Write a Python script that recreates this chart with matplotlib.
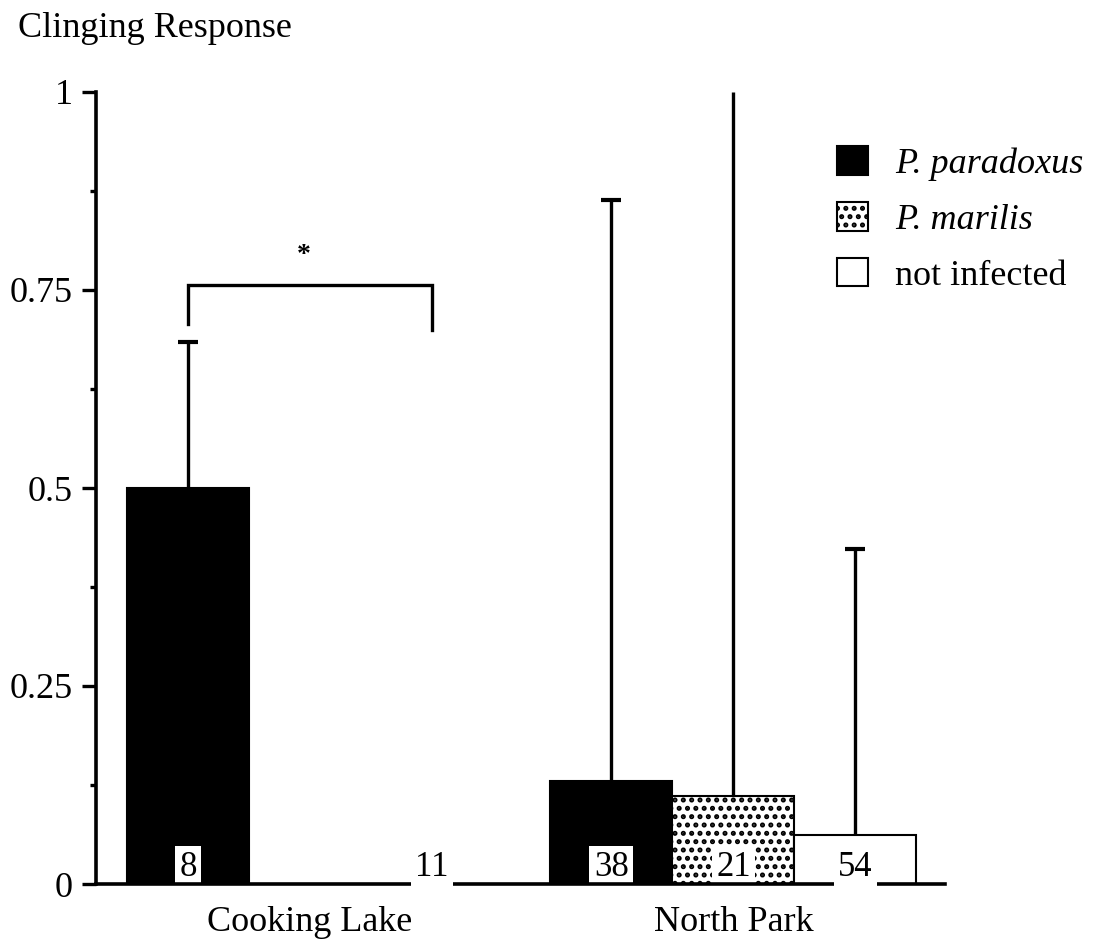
import numpy as np
import matplotlib
matplotlib.use('Agg')
import matplotlib.pyplot as plt
from matplotlib.patches import Patch

plt.rcParams['font.family'] = ['Liberation Serif', 'DejaVu Serif']
plt.rcParams['hatch.linewidth'] = 2.4

sites = ['Cooking Lake', 'North Park']
species = ['P. paradoxus', 'P. marilis', 'not infected']
# mean clinging response per site, one list per species
mean_paradoxus = [0.50, 0.130]
mean_marilis = [np.nan, 0.111]
mean_uninfected = [0.0, 0.062]
# upper end of the error bars
upper_paradoxus = [0.684, 0.864]
upper_marilis = [np.nan, 1.0]
upper_uninfected = [0.0, 0.423]
# sample sizes printed in the bars
n_paradoxus = [8, 38]
n_marilis = [None, 21]
n_uninfected = [11, 54]

means = [mean_paradoxus, mean_marilis, mean_uninfected]
uppers = [upper_paradoxus, upper_marilis, upper_uninfected]
counts = [n_paradoxus, n_marilis, n_uninfected]
faces = ['black', 'white', 'white']
hatches = [None, '..', None]

fig = plt.figure(figsize=(11.09, 9.46), dpi=100)
W, H = 1109, 946
ytop = 1.02
ax = fig.add_axes([96 / W, 62 / H, 849 / W, ytop * 792 / H])

centers = np.array([1.0, 4.47])
width = 1.0

for i, sp in enumerate(species):
    x = centers + (i - 1) * width
    for j in range(len(sites)):
        m = means[i][j]
        if np.isnan(m):
            continue
        if m > 0:
            ax.bar(x[j], m, width, color=faces[i], edgecolor='black',
                   linewidth=1.5, hatch=hatches[i], zorder=1)
        up = uppers[i][j]
        if up > m:
            cap = 0 if up >= 1 else 7.5
            eb = ax.errorbar(x[j], m, yerr=[[0], [up - m]], fmt='none',
                             ecolor='black', elinewidth=2.4, capsize=cap,
                             capthick=3, clip_on=False, zorder=1.5)
            # only the upper cap is drawn
            if len(eb[1]) == 2:
                eb[1][0].set_visible(False)
        n = counts[i][j]
        if n is not None:
            ax.text(x[j], 0.0, str(n), ha='center', va='bottom', fontsize=25,
                    zorder=3 if faces[i] == 'white' and hatches[i] is None else 2,
                    bbox=dict(boxstyle='square,pad=0.13', fc='white', ec='none'))

# significance bracket between infected and uninfected at Cooking Lake
xl = centers[0] - width
xr = centers[0] + width
ax.plot([xl, xl, xr, xr], [0.707, 0.756, 0.756, 0.70], color='black',
        lw=2.4, solid_joinstyle='miter', zorder=2)
ax.text(centers[0] - 0.05, 0.778, '*', ha='center', va='bottom', fontsize=20,
        fontweight='bold')

ax.set_ylim(0, ytop)
ax.set_xlim(-0.754, 6.205)
ax.set_yticks([0, 0.25, 0.5, 0.75, 1])
ax.set_yticklabels(['0', '0.25', '0.5', '0.75', '1'])
ax.set_yticks([0.125, 0.375, 0.625, 0.875], minor=True)
ax.tick_params(axis='y', which='major', length=10, width=2.4, pad=7, labelsize=26)
ax.tick_params(axis='y', which='minor', length=4.5, width=2.4)
ax.set_xticks(centers)
ax.set_xticklabels(sites)
ax.tick_params(axis='x', length=0, pad=16, labelsize=26)

for s in ['top', 'right']:
    ax.spines[s].set_visible(False)
ax.spines['left'].set_bounds(0, 1)
ax.spines['left'].set_linewidth(2.6)
ax.spines['bottom'].set_linewidth(2.6)
ax.spines['bottom'].set_zorder(2.5)

fig.text(18 / W, 1 - 37 / H, 'Clinging Response', fontsize=26, va='baseline')

handles = [Patch(facecolor=faces[i], edgecolor='black', linewidth=1.5,
                 hatch=hatches[i]) for i in range(len(species))]
leg = ax.legend(handles, species, loc='upper left', frameon=False,
                bbox_to_anchor=(837 / W, 1 - 146 / H), bbox_transform=fig.transFigure,
                fontsize=26, handlelength=0.85, handleheight=0.85,
                handletextpad=0.75, labelspacing=0.58, borderpad=0, borderaxespad=0)
for t in leg.get_texts()[:2]:
    t.set_style('italic')

fig.savefig('out.png', dpi=100)
